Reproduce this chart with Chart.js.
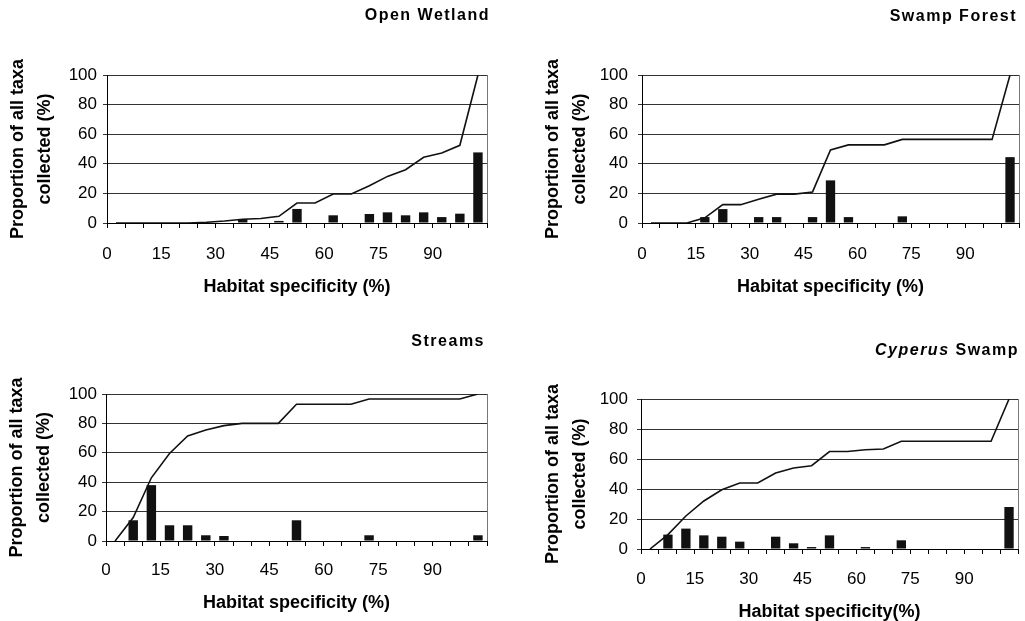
<!DOCTYPE html>
<html><head><meta charset="utf-8">
<script src="https://cdn.jsdelivr.net/npm/chart.js@4.4.1/dist/chart.umd.min.js"></script>
<style>
html,body{margin:0;padding:0;background:#fff;width:1025px;height:621px;overflow:hidden;position:relative;}
canvas{position:absolute;}
</style></head><body>
<canvas id="c1" width="512" height="310" style="left:0;top:0"></canvas>
<canvas id="c2" width="530" height="310" style="left:512px;top:0"></canvas>
<canvas id="c3" width="512" height="311" style="left:0;top:310px"></canvas>
<canvas id="c4" width="530" height="311" style="left:512px;top:310px"></canvas>
<script>
// Habitat-specificity bins (5% wide), plotted at their mid-points
const binMid = [2.5,7.5,12.5,17.5,22.5,27.5,32.5,37.5,42.5,47.5,52.5,57.5,62.5,67.5,72.5,77.5,82.5,87.5,92.5,97.5,102.5];
const xTickLabels = [0,15,30,45,60,75,90];
const yTickLabels = [0,20,40,60,80,100];

// Open Wetland
const wetlandBars = [0,0,0,0,0,0,0,2.7,0,1.4,9.5,0,5.2,0,6.1,7.2,5.2,7.2,4.0,6.3,47.7];
const wetlandLine = [0,0,0,0,0,0.5,1.3,2.5,3,4.5,13.5,13.5,19.6,19.6,25.2,31.5,36,44.4,47.3,52.5,100];
// Swamp Forest
const forestBars = [0,0,0,4,9.4,0,4,4,0,4,28.8,4,0,0,4.5,0,0,0,0,0,44.5];
const forestLine = [0,0,0,3.5,12.4,12.4,16,19.5,19.5,21,49.4,52.8,52.8,52.8,56.5,56.5,56.5,56.5,56.5,56.5,100];
// Streams
const streamBars = [0,14.1,38,10.7,10.7,3.9,3.4,0,0,0,14.1,0,0,0,3.9,0,0,0,0,0,3.9];
const streamLine = [0,16,43,59.5,71.5,75.5,78.5,80,80,80,93,93,93,93,96.6,96.6,96.6,96.6,96.6,96.6,100];
// Cyperus Swamp
const cyperusBars = [0,9.6,13.6,9.1,8.2,4.9,0,8.2,3.8,1.3,9.1,0,1.3,0,5.8,0,0,0,0,0,28];
const cyperusLine = [0,9.6,22,32,39.5,44,44,50.7,54,55.5,65,65,66.2,66.7,71.8,71.8,71.8,71.8,71.8,71.8,100];

const FAMILY = "'Liberation Sans', Arial, Helvetica, sans-serif";

const richTitle = {
  id: 'richTitle',
  afterDraw(chart, args, opts) {
    const ctx = chart.ctx;
    ctx.save();
    ctx.textBaseline = 'middle';
    ctx.textAlign = 'left';
    ctx.fillStyle = '#000';
    try { ctx.letterSpacing = opts.spacing + 'px'; } catch (e) {}
    const fonts = opts.runs.map(r => (r.italic ? 'italic ' : '') + 'bold ' + opts.size + 'px ' + FAMILY);
    const widths = opts.runs.map((r, i) => { ctx.font = fonts[i]; return ctx.measureText(r.text).width; });
    let x = chart.chartArea.right + opts.dx - widths.reduce((a, b) => a + b, 0);
    opts.runs.forEach((r, i) => { ctx.font = fonts[i]; ctx.fillText(r.text, x, opts.y); x += widths[i]; });
    ctx.restore();
  }
};
const rightBorder = {
  id: 'rightBorder',
  afterDatasetsDraw(chart) {
    const {ctx, chartArea} = chart;
    ctx.save();
    ctx.strokeStyle = '#777';
    ctx.lineWidth = 1;
    ctx.beginPath();
    ctx.moveTo(Math.round(chartArea.right) + 0.5, chartArea.top);
    ctx.lineTo(Math.round(chartArea.right) + 0.5, chartArea.bottom);
    ctx.stroke();
    ctx.restore();
  }
};

function makePanel(id, p) {
  const pts = arr => binMid.map((x, i) => ({x: x, y: arr[i]}));
  new Chart(document.getElementById(id), {
    type: 'bar',
    data: {
      datasets: [
        {type: 'line', data: pts(p.line), borderColor: '#111', borderWidth: 1.6, pointRadius: 0, fill: false, tension: 0, order: 0},
        {type: 'bar', data: pts(p.bars), backgroundColor: '#111', borderWidth: 0, barPercentage: 0.52, categoryPercentage: 1, order: 1}
      ]
    },
    options: {
      responsive: false,
      devicePixelRatio: 1,
      animation: false,
      layout: {padding: {left: 0, right: p.right, top: p.top, bottom: 0}},
      plugins: {
        legend: {display: false},
        tooltip: {enabled: false},
        richTitle: {runs: p.title, y: p.titleY, dx: p.titleDx, size: 16, spacing: 1.5}
      },
      scales: {
        x: {
          type: 'linear', min: 0, max: 105, offset: false,
          border: {display: true, color: '#000', width: 1},
          grid: {offset: false, drawOnChartArea: false, drawTicks: true, tickLength: 5, color: '#000'},
          ticks: {
            stepSize: 5, autoSkip: false, maxRotation: 0, minRotation: 0,
            padding: p.xTickPad, color: '#000', font: {size: 17, family: FAMILY},
            callback: v => xTickLabels.includes(v) ? String(v) : ''
          },
          title: {display: true, text: p.xTitle, color: '#000',
            font: {size: 18, weight: 'bold', family: FAMILY, lineHeight: 1},
            padding: {top: 0, bottom: p.xTitlePad}},
          afterFit: s => { s.height = p.xHeight; }
        },
        y: {
          min: 0, max: 100,
          border: {display: true, color: '#000', width: 1},
          grid: {color: '#333', lineWidth: 1, drawTicks: true, tickLength: 4},
          ticks: {stepSize: 20, padding: p.yTickPad, color: '#000', font: {size: 17, family: FAMILY},
            callback: v => yTickLabels.includes(v) ? String(v) : ''},
          title: {display: true, text: ['Proportion of all taxa', 'collected (%)'], color: '#000',
            font: {size: 18, weight: 'bold', family: FAMILY, lineHeight: 1.5},
            padding: {top: p.yTitlePad, bottom: 0}},
          afterFit: s => { s.width = p.yWidth; }
        }
      }
    },
    plugins: [richTitle, rightBorder]
  });
}

makePanel('c1', {bars: wetlandBars, line: wetlandLine, title: [{text: 'Open Wetland'}], titleY: 16, titleDx: 3,
  right: 25, top: 75, yWidth: 107, xHeight: 87, xTickPad: 16, xTitlePad: 14, yTickPad: 6, yTitlePad: 4.5,
  xTitle: 'Habitat specificity (%)'});
makePanel('c2', {bars: forestBars, line: forestLine, title: [{text: 'Swamp Forest'}], titleY: 17, titleDx: -2,
  right: 23, top: 75, yWidth: 130, xHeight: 87, xTickPad: 16, xTitlePad: 14, yTickPad: 10, yTitlePad: 27.5,
  xTitle: 'Habitat specificity (%)'});
makePanel('c3', {bars: streamBars, line: streamLine, title: [{text: 'Streams'}], titleY: 32, titleDx: -2,
  right: 25, top: 84, yWidth: 106, xHeight: 80, xTickPad: 14, xTitlePad: 9, yTickPad: 5, yTitlePad: 3.5,
  xTitle: 'Habitat specificity (%)'});
makePanel('c4', {bars: cyperusBars, line: cyperusLine, title: [{text: 'Cyperus', italic: true}, {text: ' Swamp'}], titleY: 41, titleDx: 1,
  right: 24, top: 89, yWidth: 129, xHeight: 72, xTickPad: 15, xTitlePad: 0, yTickPad: 9, yTitlePad: 27.5,
  xTitle: 'Habitat specificity(%)'});
</script>
</body></html>
